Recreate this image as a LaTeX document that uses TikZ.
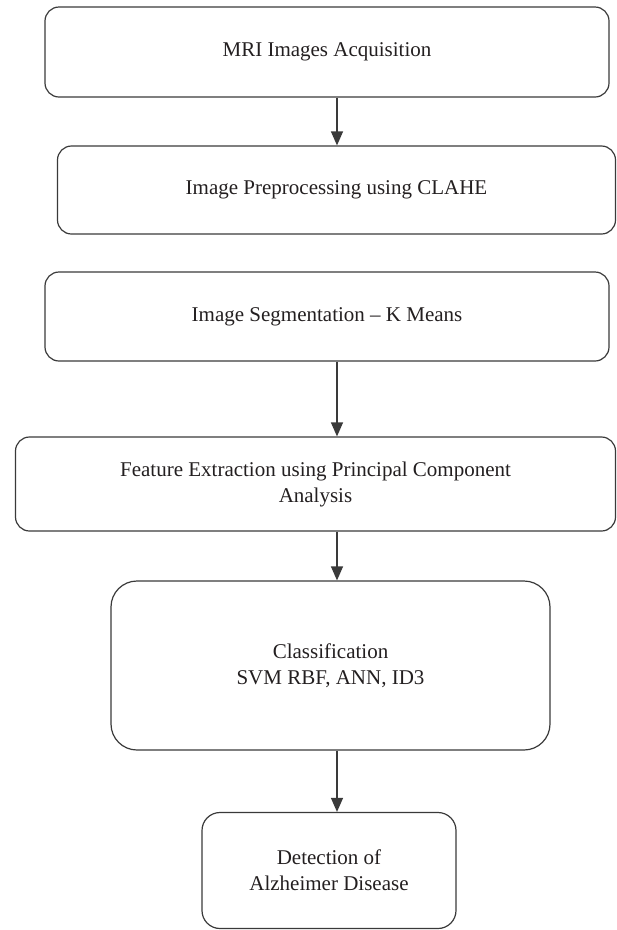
\documentclass[tikz,border=0pt]{standalone}
\usepackage{fontspec}
\setmainfont{Liberation Serif}
\usetikzlibrary{arrows.meta}
\definecolor{linegray}{HTML}{3A3A3A}
\definecolor{textgray}{HTML}{231F20}
\begin{document}
\begin{tikzpicture}[x=1pt,y=-1pt,
  box/.style={draw=linegray, line width=1.2pt, rounded corners=14pt,
    font=\fontsize{21}{26}\selectfont, text=textgray, align=center, inner sep=0pt},
  arr/.style={draw=linegray, line width=1.2pt, -{Triangle[length=14pt,width=12pt]}}]
\useasboundingbox (0,0) rectangle (617,930);
\coordinate (ax) at (337,0);
\node[box, minimum width=564pt, minimum height=90pt] (b1) at (327,52) {MRI Images Acquisition};
\node[box, minimum width=558pt, minimum height=88pt] (b2) at (336.5,190) {Image Preprocessing using CLAHE};
\node[box, minimum width=564pt, minimum height=89pt] (b3) at (327,316.5) {Image Segmentation -- K Means};
\node[box, minimum width=600pt, minimum height=94pt] (b4) at (315.5,484) {Feature Extraction using Principal Component\\Analysis};
\node[box, rounded corners=26pt, minimum width=439pt, minimum height=169pt] (b5) at (330.5,665.5) {Classification\\SVM RBF, ANN, ID3};
\node[box, rounded corners=18pt, minimum width=254pt, minimum height=116pt] (b6) at (329,870.5) {Detection of\\Alzheimer Disease};
\draw[arr] (b1.south -| ax) -- (b2.north -| ax);
\draw[arr] (b3.south -| ax) -- (b4.north -| ax);
\draw[arr] (b4.south -| ax) -- (b5.north -| ax);
\draw[arr] (b5.south -| ax) -- (b6.north -| ax);
\end{tikzpicture}
\end{document}
